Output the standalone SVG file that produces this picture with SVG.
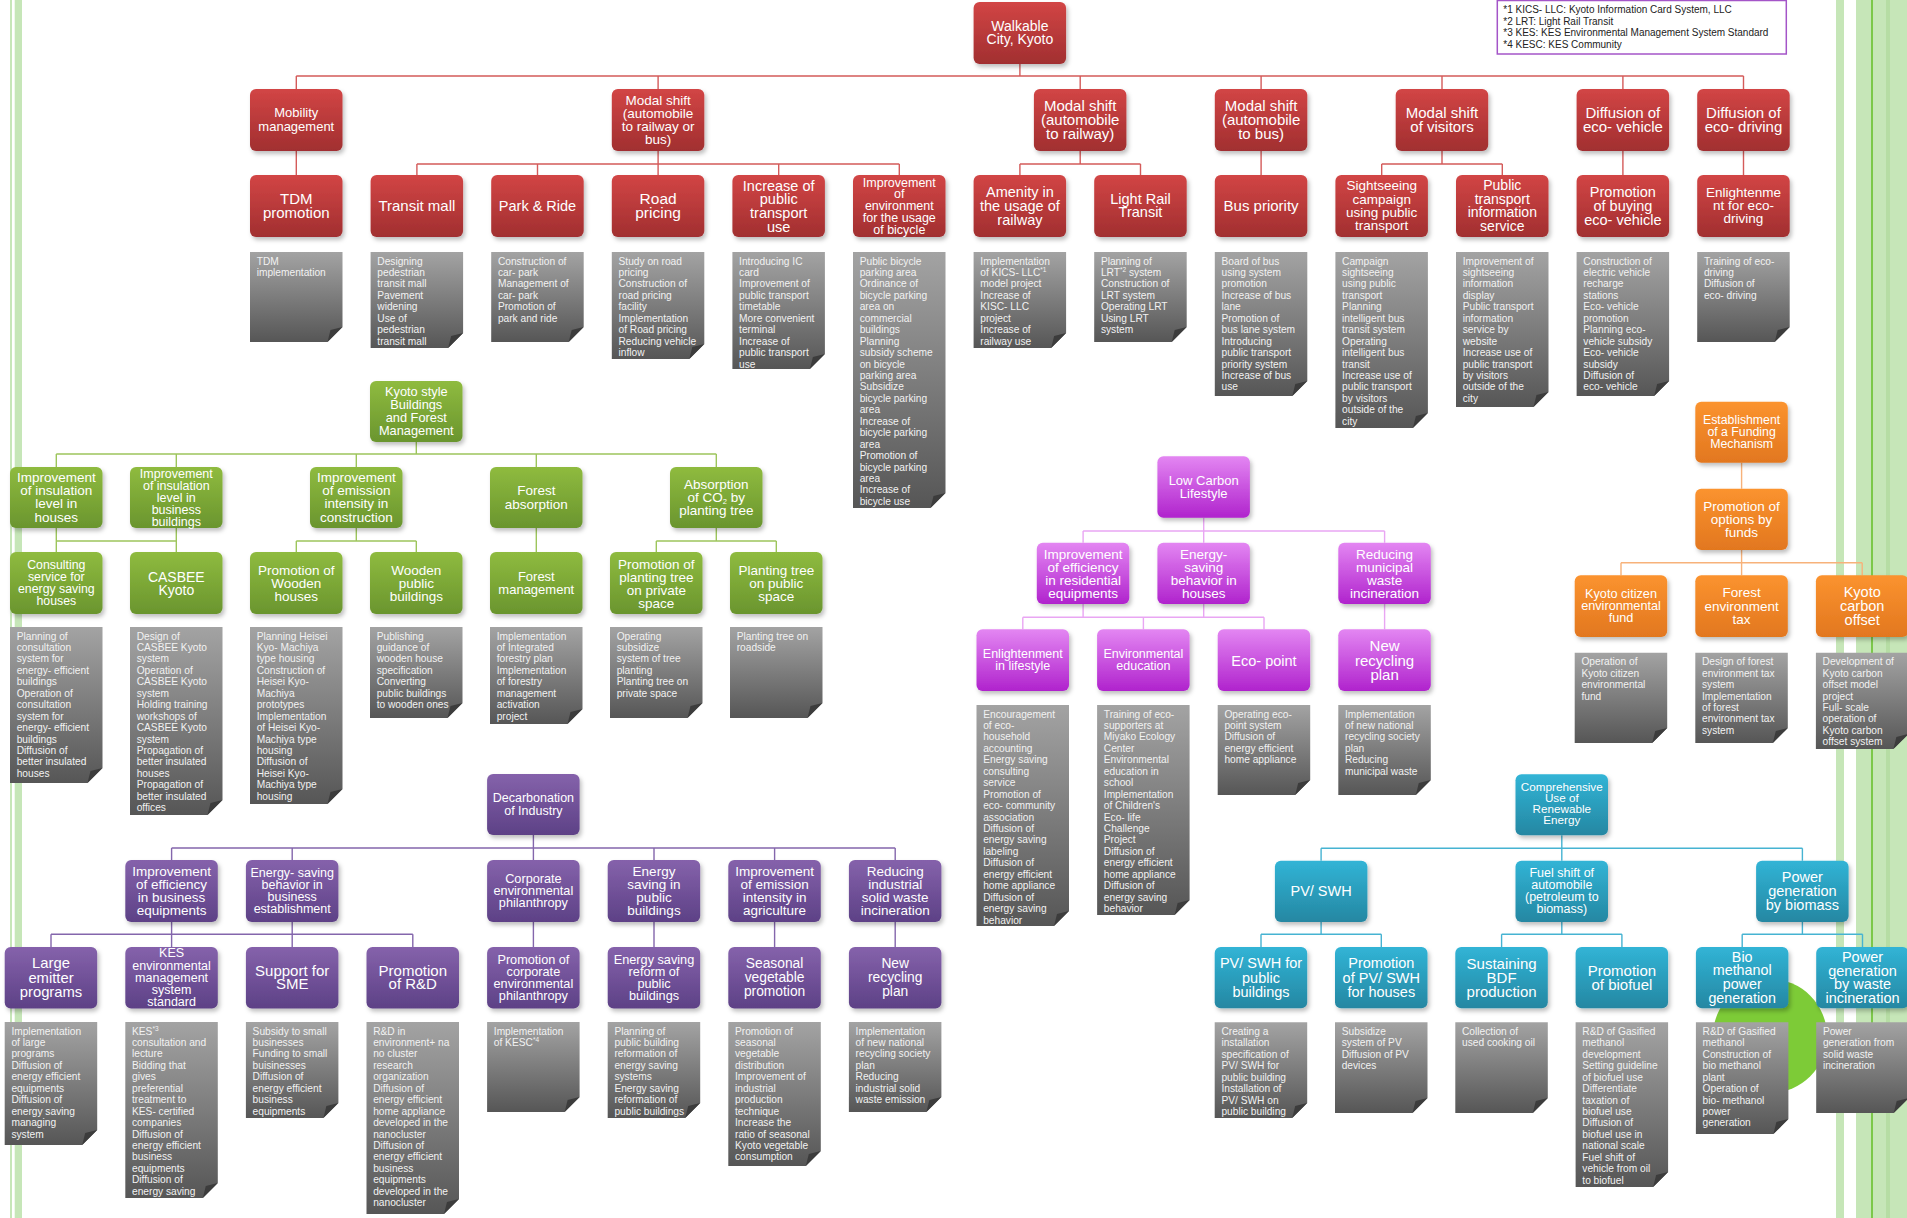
<svg xmlns="http://www.w3.org/2000/svg" width="1907" height="1218" viewBox="0 0 1907 1218">
<defs>
<linearGradient id="gR" x1="0" y1="0" x2="0" y2="1"><stop offset="0" stop-color="#d24545"/><stop offset="1" stop-color="#a12f30"/></linearGradient>
<linearGradient id="gG" x1="0" y1="0" x2="0" y2="1"><stop offset="0" stop-color="#8fbb3f"/><stop offset="1" stop-color="#6a952e"/></linearGradient>
<linearGradient id="gP" x1="0" y1="0" x2="0" y2="1"><stop offset="0" stop-color="#8562ab"/><stop offset="1" stop-color="#5d4186"/></linearGradient>
<linearGradient id="gM" x1="0" y1="0" x2="0" y2="1"><stop offset="0" stop-color="#e386f2"/><stop offset="1" stop-color="#b023cd"/></linearGradient>
<linearGradient id="gO" x1="0" y1="0" x2="0" y2="1"><stop offset="0" stop-color="#fb932f"/><stop offset="1" stop-color="#e2771f"/></linearGradient>
<linearGradient id="gC" x1="0" y1="0" x2="0" y2="1"><stop offset="0" stop-color="#31b4d6"/><stop offset="1" stop-color="#2587a2"/></linearGradient>
<linearGradient id="gN" x1="0" y1="0" x2="0" y2="1"><stop offset="0" stop-color="#a3a3a3"/><stop offset="1" stop-color="#565656"/></linearGradient>
<filter id="sh" x="-10%" y="-10%" width="130%" height="140%"><feDropShadow dx="2" dy="3" stdDeviation="2" flood-color="#000" flood-opacity="0.25"/></filter>
</defs>
<style>
.bx text{font-family:'Liberation Sans',Arial,sans-serif;fill:#fff;text-anchor:middle}
.bx rect{filter:url(#sh)}
.red rect{fill:url(#gR)}
.grn rect{fill:url(#gG)}
.pur rect{fill:url(#gP)}
.mag rect{fill:url(#gM)}
.org rect{fill:url(#gO)}
.cyn rect{fill:url(#gC)}
.nt text{font-family:'Liberation Sans',Arial,sans-serif;font-size:10.2px;fill:#f2f2f2}
.nt path{fill:url(#gN)}
.nt path.fd{fill:#3c3c3c}
.c{fill:none;stroke-width:1.4}
.cR{stroke:#d45b5a}.cG{stroke:#9dc55c}.cP{stroke:#8466ac}.cM{stroke:#e9a6f3}.cO{stroke:#f7b27a}.cC{stroke:#46b3d2}
.fn{font-family:'Liberation Sans',Arial,sans-serif;font-size:10px;fill:#222}
</style>
<g id="background">
<rect x="10" y="0" width="2" height="1218" fill="#c6e6b8"/>
<rect x="14.7" y="0" width="7.3" height="1218" fill="#c6e6b8"/>
<rect x="1836" y="0" width="8" height="1218" fill="#c6e6b8"/>
<rect x="1856" y="0" width="51" height="1218" fill="#c6e6b8"/>
<rect x="1871" y="0" width="2" height="1218" fill="#7cc84a"/>
<rect x="1886" y="0" width="4" height="1218" fill="#b6dda4"/>
<circle cx="1770" cy="1036" r="57" fill="#7dcb37"/>
</g>
<g id="footnote">
<rect x="1497.3" y="0.5" width="289" height="53.5" fill="#fff" stroke="#a455c8" stroke-width="1.5"/>
<text class="fn" x="1503.3" y="13.1">*1 KICS- LLC: Kyoto Information Card System, LLC</text>
<text class="fn" x="1503.3" y="24.8">*2 LRT: Light Rail Transit</text>
<text class="fn" x="1503.3" y="36.1">*3 KES: KES Environmental Management System Standard</text>
<text class="fn" x="1503.3" y="47.6">*4 KESC: KES Community</text>
</g>
<g id="connectors">
<path class="c cR" d="M1019.9 64V76M296.3 76H1743.5M296.3 76V89M658.1 76V89M1080.2 76V89M1261.1 76V89M1442 76V89M1622.9 76V89M1743.5 76V89M296.3 151V175M658.1 151V164M416.9 164H899.3M416.9 164V175M537.5 164V175M658.1 164V175M778.7 164V175M899.3 164V175M1080.2 151V164M1019.9 164H1140.5M1019.9 164V175M1140.5 164V175M1261.1 151V175M1442 151V164M1381.7 164H1502.3M1381.7 164V175M1502.3 164V175M1622.9 151V175M1743.5 151V175"/>
<path class="c cG" d="M416.3 442V454M56.3 454H716.3M56.3 454V467M176.3 454V467M356.3 454V467M536.3 454V467M716.3 454V467M56.3 528V552M176.3 528V552M56.3 541H176.3M356.3 528V541M296.3 541H416.3M296.3 541V552M416.3 541V552M536.3 528V552M716.3 528V541M656.3 541H776.3M656.3 541V552M776.3 541V552"/>
<path class="c cP" d="M533.4 835V848M171.6 848H895.2M171.6 848V860M292.2 848V860M533.4 848V860M654 848V860M774.6 848V860M895.2 848V860M171.6 922V947M292.2 922V947M51 934.3H412.8M51 934.3V947M412.8 934.3V947M533.4 922V947M654 922V947M774.6 922V947M895.2 922V947"/>
<path class="c cM" d="M1203.7 517.7V531M1083.1 531H1384.6M1083.1 531V542.7M1203.7 531V542.7M1384.6 531V542.7M1083.1 604V617.3M1203.7 604V617.3M1022.8 617.3H1264M1022.8 617.3V629.3M1143.4 617.3V629.3M1264 617.3V629.3M1384.6 604V629.3"/>
<path class="c cO" d="M1741.6 462.7V488.7M1741.6 550V562.7M1621 562.7H1862.2M1621 562.7V575.3M1741.6 562.7V575.3M1862.2 562.7V575.3"/>
<path class="c cC" d="M1561.8 835.3V848.3M1321.1 848.3H1802.4M1321.1 848.3V860.7M1561.8 848.3V860.7M1802.4 848.3V860.7M1321.1 922V934.3M1261 934.3H1381.3M1261 934.3V947M1381.3 934.3V947M1561.8 922V934.3M1501.6 934.3H1621.9M1501.6 934.3V947M1621.9 934.3V947M1802.4 922V934.3M1742.2 934.3H1862.5M1742.2 934.3V947M1862.5 934.3V947"/>
</g>

<g id="n-walkable" class="bx red"><rect x="973.6" y="2" width="92.5" height="62" rx="6"/><text font-size="14" y="31.2"><tspan x="1019.9">Walkable</tspan><tspan x="1019.9" dy="13">City, Kyoto</tspan></text></g>
<g id="n-mobility" class="bx red"><rect x="250" y="89" width="92.5" height="62" rx="6"/><text font-size="13" y="117.4"><tspan x="296.3">Mobility</tspan><tspan x="296.3" dy="13.3">management</tspan></text></g>
<g id="n-modal-rb" class="bx red"><rect x="611.8" y="89" width="92.5" height="62" rx="6"/><text font-size="13.5" y="104.9"><tspan x="658.1">Modal shift</tspan><tspan x="658.1" dy="12.9">(automobile</tspan><tspan x="658.1" dy="12.9">to railway or</tspan><tspan x="658.1" dy="12.9">bus)</tspan></text></g>
<g id="n-modal-rail" class="bx red"><rect x="1033.9" y="89" width="92.5" height="62" rx="6"/><text font-size="15" y="110.75"><tspan x="1080.2">Modal shift</tspan><tspan x="1080.2" dy="14">(automobile</tspan><tspan x="1080.2" dy="14">to railway)</tspan></text></g>
<g id="n-modal-bus" class="bx red"><rect x="1214.8" y="89" width="92.5" height="62" rx="6"/><text font-size="15" y="110.75"><tspan x="1261.1">Modal shift</tspan><tspan x="1261.1" dy="14">(automobile</tspan><tspan x="1261.1" dy="14">to bus)</tspan></text></g>
<g id="n-modal-visitors" class="bx red"><rect x="1395.7" y="89" width="92.5" height="62" rx="6"/><text font-size="15" y="117.75"><tspan x="1442">Modal shift</tspan><tspan x="1442" dy="14">of visitors</tspan></text></g>
<g id="n-eco-vehicle" class="bx red"><rect x="1576.6" y="89" width="92.5" height="62" rx="6"/><text font-size="15" y="117.75"><tspan x="1622.9">Diffusion of</tspan><tspan x="1622.9" dy="14">eco- vehicle</tspan></text></g>
<g id="n-eco-driving" class="bx red"><rect x="1697.2" y="89" width="92.5" height="62" rx="6"/><text font-size="15" y="117.75"><tspan x="1743.5">Diffusion of</tspan><tspan x="1743.5" dy="14">eco- driving</tspan></text></g>
<g id="n-tdm" class="bx red"><rect x="250" y="175" width="92.5" height="62" rx="6"/><text font-size="15" y="203.9"><tspan x="296.3">TDM</tspan><tspan x="296.3" dy="13.7">promotion</tspan></text></g>
<g id="n-transit" class="bx red"><rect x="370.6" y="175" width="92.5" height="62" rx="6"/><text font-size="15" y="210.75" x="416.9">Transit mall</text></g>
<g id="n-park" class="bx red"><rect x="491.2" y="175" width="92.5" height="62" rx="6"/><text font-size="14.5" y="210.6" x="537.5">Park &amp; Ride</text></g>
<g id="n-road" class="bx red"><rect x="611.8" y="175" width="92.5" height="62" rx="6"/><text font-size="15.5" y="204.15"><tspan x="658.1">Road</tspan><tspan x="658.1" dy="13.5">pricing</tspan></text></g>
<g id="n-increase" class="bx red"><rect x="732.4" y="175" width="92.5" height="62" rx="6"/><text font-size="14.5" y="190.5"><tspan x="778.7">Increase of</tspan><tspan x="778.7" dy="13.7">public</tspan><tspan x="778.7" dy="13.7">transport</tspan><tspan x="778.7" dy="13.7">use</tspan></text></g>
<g id="n-bicycle" class="bx red"><rect x="853" y="175" width="92.5" height="62" rx="6"/><text font-size="12.5" y="186.5"><tspan x="899.3">Improvement</tspan><tspan x="899.3" dy="11.9">of</tspan><tspan x="899.3" dy="11.9">environment</tspan><tspan x="899.3" dy="11.9">for the usage</tspan><tspan x="899.3" dy="11.9">of bicycle</tspan></text></g>
<g id="n-amenity" class="bx red"><rect x="973.6" y="175" width="92.5" height="62" rx="6"/><text font-size="14.5" y="197"><tspan x="1019.9">Amenity in</tspan><tspan x="1019.9" dy="14">the usage of</tspan><tspan x="1019.9" dy="14">railway</tspan></text></g>
<g id="n-lrt" class="bx red"><rect x="1094.2" y="175" width="92.5" height="62" rx="6"/><text font-size="14.5" y="204.1"><tspan x="1140.5">Light Rail</tspan><tspan x="1140.5" dy="13">Transit</tspan></text></g>
<g id="n-bus-priority" class="bx red"><rect x="1214.8" y="175" width="92.5" height="62" rx="6"/><text font-size="15" y="210.75" x="1261.1">Bus priority</text></g>
<g id="n-sightseeing" class="bx red"><rect x="1335.4" y="175" width="92.5" height="62" rx="6"/><text font-size="13.5" y="190.25"><tspan x="1381.7">Sightseeing</tspan><tspan x="1381.7" dy="13.3">campaign</tspan><tspan x="1381.7" dy="13.3">using public</tspan><tspan x="1381.7" dy="13.3">transport</tspan></text></g>
<g id="n-pt-info" class="bx red"><rect x="1456" y="175" width="92.5" height="62" rx="6"/><text font-size="14" y="190.15"><tspan x="1502.3">Public</tspan><tspan x="1502.3" dy="13.5">transport</tspan><tspan x="1502.3" dy="13.5">information</tspan><tspan x="1502.3" dy="13.5">service</tspan></text></g>
<g id="n-buy-eco" class="bx red"><rect x="1576.6" y="175" width="92.5" height="62" rx="6"/><text font-size="14.5" y="196.6"><tspan x="1622.9">Promotion</tspan><tspan x="1622.9" dy="14">of buying</tspan><tspan x="1622.9" dy="14">eco- vehicle</tspan></text></g>
<g id="n-enlighten-eco" class="bx red"><rect x="1697.2" y="175" width="92.5" height="62" rx="6"/><text font-size="13.5" y="197.2"><tspan x="1743.5">Enlightenme</tspan><tspan x="1743.5" dy="13">nt for eco-</tspan><tspan x="1743.5" dy="13">driving</tspan></text></g>

<g id="n-kyoto-style" class="bx grn"><rect x="370" y="381" width="92.5" height="61" rx="6"/><text font-size="12.8" y="395.5"><tspan x="416.3">Kyoto style</tspan><tspan x="416.3" dy="13.3">Buildings</tspan><tspan x="416.3" dy="13.3">and Forest</tspan><tspan x="416.3" dy="13.3">Management</tspan></text></g>
<g id="n-ins-houses" class="bx grn"><rect x="10" y="467" width="92.5" height="61" rx="6"/><text font-size="13.5" y="481.7"><tspan x="56.3">Improvement</tspan><tspan x="56.3" dy="13.3">of insulation</tspan><tspan x="56.3" dy="13.3">level in</tspan><tspan x="56.3" dy="13.3">houses</tspan></text></g>
<g id="n-ins-business" class="bx grn"><rect x="130" y="467" width="92.5" height="61" rx="6"/><text font-size="12.5" y="477.6"><tspan x="176.3">Improvement</tspan><tspan x="176.3" dy="12">of insulation</tspan><tspan x="176.3" dy="12">level in</tspan><tspan x="176.3" dy="12">business</tspan><tspan x="176.3" dy="12">buildings</tspan></text></g>
<g id="n-emission-constr" class="bx grn"><rect x="310" y="467" width="92.5" height="61" rx="6"/><text font-size="13.5" y="481.7"><tspan x="356.3">Improvement</tspan><tspan x="356.3" dy="13.3">of emission</tspan><tspan x="356.3" dy="13.3">intensity in</tspan><tspan x="356.3" dy="13.3">construction</tspan></text></g>
<g id="n-forest-abs" class="bx grn"><rect x="490" y="467" width="92.5" height="61" rx="6"/><text font-size="13.5" y="494.7"><tspan x="536.3">Forest</tspan><tspan x="536.3" dy="14">absorption</tspan></text></g>
<g id="n-co2" class="bx grn"><rect x="670" y="467" width="92.5" height="61" rx="6"/><text font-size="13.5" y="488.7"><tspan x="716.3">Absorption</tspan><tspan x="716.3" dy="13">of CO<tspan font-size="7.5" baseline-shift="-1.5">2</tspan> by</tspan><tspan x="716.3" dy="13">planting tree</tspan></text></g>
<g id="n-consulting" class="bx grn"><rect x="10" y="552" width="92.5" height="62" rx="6"/><text font-size="12.3" y="569"><tspan x="56.3">Consulting</tspan><tspan x="56.3" dy="12.1">service for</tspan><tspan x="56.3" dy="12.1">energy saving</tspan><tspan x="56.3" dy="12.1">houses</tspan></text></g>
<g id="n-casbee" class="bx grn"><rect x="130" y="552" width="92.5" height="62" rx="6"/><text font-size="14" y="581.5"><tspan x="176.3">CASBEE</tspan><tspan x="176.3" dy="13">Kyoto</tspan></text></g>
<g id="n-wooden-houses" class="bx grn"><rect x="250" y="552" width="92.5" height="62" rx="6"/><text font-size="13.5" y="574.5"><tspan x="296.3">Promotion of</tspan><tspan x="296.3" dy="13">Wooden</tspan><tspan x="296.3" dy="13">houses</tspan></text></g>
<g id="n-wooden-public" class="bx grn"><rect x="370" y="552" width="92.5" height="62" rx="6"/><text font-size="13.5" y="574.5"><tspan x="416.3">Wooden</tspan><tspan x="416.3" dy="13">public</tspan><tspan x="416.3" dy="13">buildings</tspan></text></g>
<g id="n-forest-mgmt" class="bx grn"><rect x="490" y="552" width="92.5" height="62" rx="6"/><text font-size="13" y="581.3"><tspan x="536.3">Forest</tspan><tspan x="536.3" dy="13">management</tspan></text></g>
<g id="n-planting-private" class="bx grn"><rect x="610" y="552" width="92.5" height="62" rx="6"/><text font-size="13.5" y="568.5"><tspan x="656.3">Promotion of</tspan><tspan x="656.3" dy="13">planting tree</tspan><tspan x="656.3" dy="13">on private</tspan><tspan x="656.3" dy="13">space</tspan></text></g>
<g id="n-planting-public" class="bx grn"><rect x="730" y="552" width="92.5" height="62" rx="6"/><text font-size="13.5" y="574.5"><tspan x="776.3">Planting tree</tspan><tspan x="776.3" dy="13">on public</tspan><tspan x="776.3" dy="13">space</tspan></text></g>

<g id="n-decarb" class="bx pur"><rect x="487.1" y="774" width="92.5" height="61" rx="6"/><text font-size="12.5" y="801.5"><tspan x="533.4">Decarbonation</tspan><tspan x="533.4" dy="13">of Industry</tspan></text></g>
<g id="n-eff-business" class="bx pur"><rect x="125.3" y="860" width="92.5" height="62" rx="6"/><text font-size="13.5" y="875.7"><tspan x="171.6">Improvement</tspan><tspan x="171.6" dy="13">of efficiency</tspan><tspan x="171.6" dy="13">in business</tspan><tspan x="171.6" dy="13">equipments</tspan></text></g>
<g id="n-behavior-business" class="bx pur"><rect x="245.9" y="860" width="92.5" height="62" rx="6"/><text font-size="12.5" y="876.7"><tspan x="292.2">Energy- saving</tspan><tspan x="292.2" dy="12.2">behavior in</tspan><tspan x="292.2" dy="12.2">business</tspan><tspan x="292.2" dy="12.2">establishment</tspan></text></g>
<g id="n-corporate" class="bx pur"><rect x="487.1" y="860" width="92.5" height="62" rx="6"/><text font-size="12.7" y="882.8"><tspan x="533.4">Corporate</tspan><tspan x="533.4" dy="12">environmental</tspan><tspan x="533.4" dy="12">philanthropy</tspan></text></g>
<g id="n-public-bldg" class="bx pur"><rect x="607.7" y="860" width="92.5" height="62" rx="6"/><text font-size="13.5" y="875.7"><tspan x="654">Energy</tspan><tspan x="654" dy="13">saving in</tspan><tspan x="654" dy="13">public</tspan><tspan x="654" dy="13">buildings</tspan></text></g>
<g id="n-agriculture" class="bx pur"><rect x="728.3" y="860" width="92.5" height="62" rx="6"/><text font-size="13.5" y="875.7"><tspan x="774.6">Improvement</tspan><tspan x="774.6" dy="13">of emission</tspan><tspan x="774.6" dy="13">intensity in</tspan><tspan x="774.6" dy="13">agriculture</tspan></text></g>
<g id="n-industrial-waste" class="bx pur"><rect x="848.9" y="860" width="92.5" height="62" rx="6"/><text font-size="13.5" y="875.7"><tspan x="895.2">Reducing</tspan><tspan x="895.2" dy="13">industrial</tspan><tspan x="895.2" dy="13">solid waste</tspan><tspan x="895.2" dy="13">incineration</tspan></text></g>
<g id="n-large-emitter" class="bx pur"><rect x="4.7" y="947" width="92.5" height="61.5" rx="6"/><text font-size="14.8" y="968.4"><tspan x="51">Large</tspan><tspan x="51" dy="14.2">emitter</tspan><tspan x="51" dy="14.2">programs</tspan></text></g>
<g id="n-kes" class="bx pur"><rect x="125.3" y="947" width="92.5" height="61.5" rx="6"/><text font-size="12.5" y="957.4"><tspan x="171.6">KES</tspan><tspan x="171.6" dy="12.1">environmental</tspan><tspan x="171.6" dy="12.1">management</tspan><tspan x="171.6" dy="12.1">system</tspan><tspan x="171.6" dy="12.1">standard</tspan></text></g>
<g id="n-sme" class="bx pur"><rect x="245.9" y="947" width="92.5" height="61.5" rx="6"/><text font-size="15" y="975.9"><tspan x="292.2">Support for</tspan><tspan x="292.2" dy="13.3">SME</tspan></text></g>
<g id="n-rd" class="bx pur"><rect x="366.5" y="947" width="92.5" height="61.5" rx="6"/><text font-size="15" y="975.9"><tspan x="412.8">Promotion</tspan><tspan x="412.8" dy="13.3">of R&amp;D</tspan></text></g>
<g id="n-promo-corporate" class="bx pur"><rect x="487.1" y="947" width="92.5" height="61.5" rx="6"/><text font-size="12.7" y="963.5"><tspan x="533.4">Promotion of</tspan><tspan x="533.4" dy="12.1">corporate</tspan><tspan x="533.4" dy="12.1">environmental</tspan><tspan x="533.4" dy="12.1">philanthropy</tspan></text></g>
<g id="n-reform" class="bx pur"><rect x="607.7" y="947" width="92.5" height="61.5" rx="6"/><text font-size="12.7" y="963.5"><tspan x="654">Energy saving</tspan><tspan x="654" dy="12.1">reform of</tspan><tspan x="654" dy="12.1">public</tspan><tspan x="654" dy="12.1">buildings</tspan></text></g>
<g id="n-seasonal" class="bx pur"><rect x="728.3" y="947" width="92.5" height="61.5" rx="6"/><text font-size="13.8" y="968.3"><tspan x="774.6">Seasonal</tspan><tspan x="774.6" dy="13.7">vegetable</tspan><tspan x="774.6" dy="13.7">promotion</tspan></text></g>
<g id="n-recycling-ind" class="bx pur"><rect x="848.9" y="947" width="92.5" height="61.5" rx="6"/><text font-size="13.8" y="968.3"><tspan x="895.2">New</tspan><tspan x="895.2" dy="13.7">recycling</tspan><tspan x="895.2" dy="13.7">plan</tspan></text></g>

<g id="n-lowcarbon" class="bx mag"><rect x="1157.4" y="456.3" width="92.5" height="61.4" rx="6"/><text font-size="13" y="484.5"><tspan x="1203.7">Low Carbon</tspan><tspan x="1203.7" dy="13.7">Lifestyle</tspan></text></g>
<g id="n-residential" class="bx mag"><rect x="1036.8" y="542.7" width="92.5" height="61.3" rx="6"/><text font-size="13.5" y="558.5"><tspan x="1083.1">Improvement</tspan><tspan x="1083.1" dy="13">of efficiency</tspan><tspan x="1083.1" dy="13">in residential</tspan><tspan x="1083.1" dy="13">equipments</tspan></text></g>
<g id="n-behavior-houses" class="bx mag"><rect x="1157.4" y="542.7" width="92.5" height="61.3" rx="6"/><text font-size="13.5" y="558.5"><tspan x="1203.7">Energy-</tspan><tspan x="1203.7" dy="13">saving</tspan><tspan x="1203.7" dy="13">behavior in</tspan><tspan x="1203.7" dy="13">houses</tspan></text></g>
<g id="n-municipal" class="bx mag"><rect x="1338.3" y="542.7" width="92.5" height="61.3" rx="6"/><text font-size="13.5" y="558.5"><tspan x="1384.6">Reducing</tspan><tspan x="1384.6" dy="13">municipal</tspan><tspan x="1384.6" dy="13">waste</tspan><tspan x="1384.6" dy="13">incineration</tspan></text></g>
<g id="n-lifestyle" class="bx mag"><rect x="976.5" y="629.3" width="92.5" height="61.7" rx="6"/><text font-size="12.5" y="658.2"><tspan x="1022.8">Enlightenment</tspan><tspan x="1022.8" dy="12">in lifestyle</tspan></text></g>
<g id="n-env-edu" class="bx mag"><rect x="1097.1" y="629.3" width="92.5" height="61.7" rx="6"/><text font-size="12.5" y="658.2"><tspan x="1143.4">Environmental</tspan><tspan x="1143.4" dy="12">education</tspan></text></g>
<g id="n-ecopoint" class="bx mag"><rect x="1217.7" y="629.3" width="92.5" height="61.7" rx="6"/><text font-size="14.5" y="665.5" x="1264">Eco- point</text></g>
<g id="n-recycling-mun" class="bx mag"><rect x="1338.3" y="629.3" width="92.5" height="61.7" rx="6"/><text font-size="15" y="651.3"><tspan x="1384.6">New</tspan><tspan x="1384.6" dy="14.2">recycling</tspan><tspan x="1384.6" dy="14.2">plan</tspan></text></g>

<g id="n-funding" class="bx org"><rect x="1695.3" y="401.7" width="92.5" height="61" rx="6"/><text font-size="12.3" y="424.3"><tspan x="1741.6">Establishment</tspan><tspan x="1741.6" dy="12">of a Funding</tspan><tspan x="1741.6" dy="12">Mechanism</tspan></text></g>
<g id="n-options" class="bx org"><rect x="1695.3" y="488.7" width="92.5" height="61.3" rx="6"/><text font-size="13.5" y="510.7"><tspan x="1741.6">Promotion of</tspan><tspan x="1741.6" dy="13">options by</tspan><tspan x="1741.6" dy="13">funds</tspan></text></g>
<g id="n-citizen-fund" class="bx org"><rect x="1574.7" y="575.3" width="92.5" height="61.7" rx="6"/><text font-size="12.7" y="598.4"><tspan x="1621">Kyoto citizen</tspan><tspan x="1621" dy="12">environmental</tspan><tspan x="1621" dy="12">fund</tspan></text></g>
<g id="n-forest-tax" class="bx org"><rect x="1695.3" y="575.3" width="92.5" height="61.7" rx="6"/><text font-size="13.5" y="597.4"><tspan x="1741.6">Forest</tspan><tspan x="1741.6" dy="13.2">environment</tspan><tspan x="1741.6" dy="13.2">tax</tspan></text></g>
<g id="n-carbon-offset" class="bx org"><rect x="1815.9" y="575.3" width="92.5" height="61.7" rx="6"/><text font-size="14.5" y="597.4"><tspan x="1862.2">Kyoto</tspan><tspan x="1862.2" dy="13.9">carbon</tspan><tspan x="1862.2" dy="13.9">offset</tspan></text></g>

<g id="n-renewable" class="bx cyn"><rect x="1515.5" y="774.3" width="92.5" height="61" rx="6"/><text font-size="11.7" y="791.4"><tspan x="1561.8">Comprehensive</tspan><tspan x="1561.8" dy="11">Use of</tspan><tspan x="1561.8" dy="11">Renewable</tspan><tspan x="1561.8" dy="11">Energy</tspan></text></g>
<g id="n-pvswh" class="bx cyn"><rect x="1274.9" y="860.7" width="92.5" height="61.3" rx="6"/><text font-size="14.5" y="896.2" x="1321.1">PV/ SWH</text></g>
<g id="n-fuel-shift" class="bx cyn"><rect x="1515.5" y="860.7" width="92.5" height="61.3" rx="6"/><text font-size="12.5" y="877.4"><tspan x="1561.8">Fuel shift of</tspan><tspan x="1561.8" dy="12">automobile</tspan><tspan x="1561.8" dy="12">(petroleum to</tspan><tspan x="1561.8" dy="12">biomass)</tspan></text></g>
<g id="n-biomass" class="bx cyn"><rect x="1756.1" y="860.7" width="92.5" height="61.3" rx="6"/><text font-size="14.5" y="882.4"><tspan x="1802.4">Power</tspan><tspan x="1802.4" dy="13.7">generation</tspan><tspan x="1802.4" dy="13.7">by biomass</tspan></text></g>
<g id="n-pv-public" class="bx cyn"><rect x="1214.7" y="947" width="92.5" height="61.3" rx="6"/><text font-size="14.5" y="968.4"><tspan x="1261">PV/ SWH for</tspan><tspan x="1261" dy="14.2">public</tspan><tspan x="1261" dy="14.2">buildings</tspan></text></g>
<g id="n-pv-houses" class="bx cyn"><rect x="1335" y="947" width="92.5" height="61.3" rx="6"/><text font-size="14.5" y="968.4"><tspan x="1381.3">Promotion</tspan><tspan x="1381.3" dy="14.2">of PV/ SWH</tspan><tspan x="1381.3" dy="14.2">for houses</tspan></text></g>
<g id="n-bdf" class="bx cyn"><rect x="1455.3" y="947" width="92.5" height="61.3" rx="6"/><text font-size="15" y="968.5"><tspan x="1501.6">Sustaining</tspan><tspan x="1501.6" dy="14.2">BDF</tspan><tspan x="1501.6" dy="14.2">production</tspan></text></g>
<g id="n-biofuel" class="bx cyn"><rect x="1575.6" y="947" width="92.5" height="61.3" rx="6"/><text font-size="15" y="975.9"><tspan x="1621.9">Promotion</tspan><tspan x="1621.9" dy="13.7">of biofuel</tspan></text></g>
<g id="n-biomethanol" class="bx cyn"><rect x="1695.9" y="947" width="92.5" height="61.3" rx="6"/><text font-size="14.3" y="961.7"><tspan x="1742.2">Bio</tspan><tspan x="1742.2" dy="13.7">methanol</tspan><tspan x="1742.2" dy="13.7">power</tspan><tspan x="1742.2" dy="13.7">generation</tspan></text></g>
<g id="n-waste-power" class="bx cyn"><rect x="1816.2" y="947" width="92.5" height="61.3" rx="6"/><text font-size="14.5" y="961.8"><tspan x="1862.5">Power</tspan><tspan x="1862.5" dy="13.7">generation</tspan><tspan x="1862.5" dy="13.7">by waste</tspan><tspan x="1862.5" dy="13.7">incineration</tspan></text></g>

<g id="note-tdm" class="nt"><path d="M250 252h92.5v75l-15 15H250z"/><path class="fd" d="M342.5 327l-15 15 3-12z"/><text y="264.5"><tspan x="256.7">TDM</tspan><tspan x="256.7" dy="11.45">implementation</tspan></text></g>
<g id="note-transit" class="nt"><path d="M370.6 252h92.5v81l-15 15H370.6z"/><path class="fd" d="M463.1 333l-15 15 3-12z"/><text y="264.5"><tspan x="377.3">Designing</tspan><tspan x="377.3" dy="11.45">pedestrian</tspan><tspan x="377.3" dy="11.45">transit mall</tspan><tspan x="377.3" dy="11.45">Pavement</tspan><tspan x="377.3" dy="11.45">widening</tspan><tspan x="377.3" dy="11.45">Use of</tspan><tspan x="377.3" dy="11.45">pedestrian</tspan><tspan x="377.3" dy="11.45">transit mall</tspan></text></g>
<g id="note-park" class="nt"><path d="M491.2 252h92.5v75l-15 15H491.2z"/><path class="fd" d="M583.7 327l-15 15 3-12z"/><text y="264.5"><tspan x="497.9">Construction of</tspan><tspan x="497.9" dy="11.45">car- park</tspan><tspan x="497.9" dy="11.45">Management of</tspan><tspan x="497.9" dy="11.45">car- park</tspan><tspan x="497.9" dy="11.45">Promotion of</tspan><tspan x="497.9" dy="11.45">park and ride</tspan></text></g>
<g id="note-road" class="nt"><path d="M611.8 252h92.5v92l-15 15H611.8z"/><path class="fd" d="M704.3 344l-15 15 3-12z"/><text y="264.5"><tspan x="618.5">Study on road</tspan><tspan x="618.5" dy="11.45">pricing</tspan><tspan x="618.5" dy="11.45">Construction of</tspan><tspan x="618.5" dy="11.45">road pricing</tspan><tspan x="618.5" dy="11.45">facility</tspan><tspan x="618.5" dy="11.45">Implementation</tspan><tspan x="618.5" dy="11.45">of Road pricing</tspan><tspan x="618.5" dy="11.45">Reducing vehicle</tspan><tspan x="618.5" dy="11.45">inflow</tspan></text></g>
<g id="note-increase" class="nt"><path d="M732.4 252h92.5v102l-15 15H732.4z"/><path class="fd" d="M824.9 354l-15 15 3-12z"/><text y="264.5"><tspan x="739.1">Introducing IC</tspan><tspan x="739.1" dy="11.45">card</tspan><tspan x="739.1" dy="11.45">Improvement of</tspan><tspan x="739.1" dy="11.45">public transport</tspan><tspan x="739.1" dy="11.45">timetable</tspan><tspan x="739.1" dy="11.45">More convenient</tspan><tspan x="739.1" dy="11.45">terminal</tspan><tspan x="739.1" dy="11.45">Increase of</tspan><tspan x="739.1" dy="11.45">public transport</tspan><tspan x="739.1" dy="11.45">use</tspan></text></g>
<g id="note-bicycle" class="nt"><path d="M853 252h92.5v241l-15 15H853z"/><path class="fd" d="M945.5 493l-15 15 3-12z"/><text y="264.5"><tspan x="859.7">Public bicycle</tspan><tspan x="859.7" dy="11.45">parking area</tspan><tspan x="859.7" dy="11.45">Ordinance of</tspan><tspan x="859.7" dy="11.45">bicycle parking</tspan><tspan x="859.7" dy="11.45">area on</tspan><tspan x="859.7" dy="11.45">commercial</tspan><tspan x="859.7" dy="11.45">buildings</tspan><tspan x="859.7" dy="11.45">Planning</tspan><tspan x="859.7" dy="11.45">subsidy scheme</tspan><tspan x="859.7" dy="11.45">on bicycle</tspan><tspan x="859.7" dy="11.45">parking area</tspan><tspan x="859.7" dy="11.45">Subsidize</tspan><tspan x="859.7" dy="11.45">bicycle parking</tspan><tspan x="859.7" dy="11.45">area</tspan><tspan x="859.7" dy="11.45">Increase of</tspan><tspan x="859.7" dy="11.45">bicycle parking</tspan><tspan x="859.7" dy="11.45">area</tspan><tspan x="859.7" dy="11.45">Promotion of</tspan><tspan x="859.7" dy="11.45">bicycle parking</tspan><tspan x="859.7" dy="11.45">area</tspan><tspan x="859.7" dy="11.45">Increase of</tspan><tspan x="859.7" dy="11.45">bicycle use</tspan></text></g>
<g id="note-amenity" class="nt"><path d="M973.6 252h92.5v81l-15 15H973.6z"/><path class="fd" d="M1066.1 333l-15 15 3-12z"/><text y="264.5"><tspan x="980.3">Implementation</tspan><tspan x="980.3" dy="11.45">of KICS- LLC<tspan font-size="6.5" baseline-shift="4">*1</tspan></tspan><tspan x="980.3" dy="11.45">model project</tspan><tspan x="980.3" dy="11.45">Increase of</tspan><tspan x="980.3" dy="11.45">KISC- LLC</tspan><tspan x="980.3" dy="11.45">project</tspan><tspan x="980.3" dy="11.45">Increase of</tspan><tspan x="980.3" dy="11.45">railway use</tspan></text></g>
<g id="note-lrt" class="nt"><path d="M1094.2 252h92.5v75l-15 15H1094.2z"/><path class="fd" d="M1186.7 327l-15 15 3-12z"/><text y="264.5"><tspan x="1100.9">Planning of</tspan><tspan x="1100.9" dy="11.45">LRT<tspan font-size="6.5" baseline-shift="4">*2</tspan> system</tspan><tspan x="1100.9" dy="11.45">Construction of</tspan><tspan x="1100.9" dy="11.45">LRT system</tspan><tspan x="1100.9" dy="11.45">Operating LRT</tspan><tspan x="1100.9" dy="11.45">Using LRT</tspan><tspan x="1100.9" dy="11.45">system</tspan></text></g>
<g id="note-bus-priority" class="nt"><path d="M1214.8 252h92.5v129l-15 15H1214.8z"/><path class="fd" d="M1307.3 381l-15 15 3-12z"/><text y="264.5"><tspan x="1221.5">Board of bus</tspan><tspan x="1221.5" dy="11.45">using system</tspan><tspan x="1221.5" dy="11.45">promotion</tspan><tspan x="1221.5" dy="11.45">Increase of bus</tspan><tspan x="1221.5" dy="11.45">lane</tspan><tspan x="1221.5" dy="11.45">Promotion of</tspan><tspan x="1221.5" dy="11.45">bus lane system</tspan><tspan x="1221.5" dy="11.45">Introducing</tspan><tspan x="1221.5" dy="11.45">public transport</tspan><tspan x="1221.5" dy="11.45">priority system</tspan><tspan x="1221.5" dy="11.45">Increase of bus</tspan><tspan x="1221.5" dy="11.45">use</tspan></text></g>
<g id="note-sightseeing" class="nt"><path d="M1335.4 252h92.5v161l-15 15H1335.4z"/><path class="fd" d="M1427.9 413l-15 15 3-12z"/><text y="264.5"><tspan x="1342.1">Campaign</tspan><tspan x="1342.1" dy="11.45">sightseeing</tspan><tspan x="1342.1" dy="11.45">using public</tspan><tspan x="1342.1" dy="11.45">transport</tspan><tspan x="1342.1" dy="11.45">Planning</tspan><tspan x="1342.1" dy="11.45">intelligent bus</tspan><tspan x="1342.1" dy="11.45">transit system</tspan><tspan x="1342.1" dy="11.45">Operating</tspan><tspan x="1342.1" dy="11.45">intelligent bus</tspan><tspan x="1342.1" dy="11.45">transit</tspan><tspan x="1342.1" dy="11.45">Increase use of</tspan><tspan x="1342.1" dy="11.45">public transport</tspan><tspan x="1342.1" dy="11.45">by visitors</tspan><tspan x="1342.1" dy="11.45">outside of the</tspan><tspan x="1342.1" dy="11.45">city</tspan></text></g>
<g id="note-pt-info" class="nt"><path d="M1456 252h92.5v140l-15 15H1456z"/><path class="fd" d="M1548.5 392l-15 15 3-12z"/><text y="264.5"><tspan x="1462.7">Improvement of</tspan><tspan x="1462.7" dy="11.45">sightseeing</tspan><tspan x="1462.7" dy="11.45">information</tspan><tspan x="1462.7" dy="11.45">display</tspan><tspan x="1462.7" dy="11.45">Public transport</tspan><tspan x="1462.7" dy="11.45">information</tspan><tspan x="1462.7" dy="11.45">service by</tspan><tspan x="1462.7" dy="11.45">website</tspan><tspan x="1462.7" dy="11.45">Increase use of</tspan><tspan x="1462.7" dy="11.45">public transport</tspan><tspan x="1462.7" dy="11.45">by visitors</tspan><tspan x="1462.7" dy="11.45">outside of the</tspan><tspan x="1462.7" dy="11.45">city</tspan></text></g>
<g id="note-buy-eco" class="nt"><path d="M1576.6 252h92.5v129l-15 15H1576.6z"/><path class="fd" d="M1669.1 381l-15 15 3-12z"/><text y="264.5"><tspan x="1583.3">Construction of</tspan><tspan x="1583.3" dy="11.45">electric vehicle</tspan><tspan x="1583.3" dy="11.45">recharge</tspan><tspan x="1583.3" dy="11.45">stations</tspan><tspan x="1583.3" dy="11.45">Eco- vehicle</tspan><tspan x="1583.3" dy="11.45">promotion</tspan><tspan x="1583.3" dy="11.45">Planning eco-</tspan><tspan x="1583.3" dy="11.45">vehicle subsidy</tspan><tspan x="1583.3" dy="11.45">Eco- vehicle</tspan><tspan x="1583.3" dy="11.45">subsidy</tspan><tspan x="1583.3" dy="11.45">Diffusion of</tspan><tspan x="1583.3" dy="11.45">eco- vehicle</tspan></text></g>
<g id="note-enlighten-eco" class="nt"><path d="M1697.2 252h92.5v75l-15 15H1697.2z"/><path class="fd" d="M1789.7 327l-15 15 3-12z"/><text y="264.5"><tspan x="1703.9">Training of eco-</tspan><tspan x="1703.9" dy="11.45">driving</tspan><tspan x="1703.9" dy="11.45">Diffusion of</tspan><tspan x="1703.9" dy="11.45">eco- driving</tspan></text></g>

<g id="note-consulting" class="nt"><path d="M10 627h92.5v141l-15 15H10z"/><path class="fd" d="M102.5 768l-15 15 3-12z"/><text y="639.5"><tspan x="16.7">Planning of</tspan><tspan x="16.7" dy="11.45">consultation</tspan><tspan x="16.7" dy="11.45">system for</tspan><tspan x="16.7" dy="11.45">energy- efficient</tspan><tspan x="16.7" dy="11.45">buildings</tspan><tspan x="16.7" dy="11.45">Operation of</tspan><tspan x="16.7" dy="11.45">consultation</tspan><tspan x="16.7" dy="11.45">system for</tspan><tspan x="16.7" dy="11.45">energy- efficient</tspan><tspan x="16.7" dy="11.45">buildings</tspan><tspan x="16.7" dy="11.45">Diffusion of</tspan><tspan x="16.7" dy="11.45">better insulated</tspan><tspan x="16.7" dy="11.45">houses</tspan></text></g>
<g id="note-casbee" class="nt"><path d="M130 627h92.5v173l-15 15H130z"/><path class="fd" d="M222.5 800l-15 15 3-12z"/><text y="639.5"><tspan x="136.7">Design of</tspan><tspan x="136.7" dy="11.45">CASBEE Kyoto</tspan><tspan x="136.7" dy="11.45">system</tspan><tspan x="136.7" dy="11.45">Operation of</tspan><tspan x="136.7" dy="11.45">CASBEE Kyoto</tspan><tspan x="136.7" dy="11.45">system</tspan><tspan x="136.7" dy="11.45">Holding training</tspan><tspan x="136.7" dy="11.45">workshops of</tspan><tspan x="136.7" dy="11.45">CASBEE Kyoto</tspan><tspan x="136.7" dy="11.45">system</tspan><tspan x="136.7" dy="11.45">Propagation of</tspan><tspan x="136.7" dy="11.45">better insulated</tspan><tspan x="136.7" dy="11.45">houses</tspan><tspan x="136.7" dy="11.45">Propagation of</tspan><tspan x="136.7" dy="11.45">better insulated</tspan><tspan x="136.7" dy="11.45">offices</tspan></text></g>
<g id="note-wooden-houses" class="nt"><path d="M250 627h92.5v162l-15 15H250z"/><path class="fd" d="M342.5 789l-15 15 3-12z"/><text y="639.5"><tspan x="256.7">Planning Heisei</tspan><tspan x="256.7" dy="11.45">Kyo- Machiya</tspan><tspan x="256.7" dy="11.45">type housing</tspan><tspan x="256.7" dy="11.45">Construction of</tspan><tspan x="256.7" dy="11.45">Heisei Kyo-</tspan><tspan x="256.7" dy="11.45">Machiya</tspan><tspan x="256.7" dy="11.45">prototypes</tspan><tspan x="256.7" dy="11.45">Implementation</tspan><tspan x="256.7" dy="11.45">of Heisei Kyo-</tspan><tspan x="256.7" dy="11.45">Machiya type</tspan><tspan x="256.7" dy="11.45">housing</tspan><tspan x="256.7" dy="11.45">Diffusion of</tspan><tspan x="256.7" dy="11.45">Heisei Kyo-</tspan><tspan x="256.7" dy="11.45">Machiya type</tspan><tspan x="256.7" dy="11.45">housing</tspan></text></g>
<g id="note-wooden-public" class="nt"><path d="M370 627h92.5v76l-15 15H370z"/><path class="fd" d="M462.5 703l-15 15 3-12z"/><text y="639.5"><tspan x="376.7">Publishing</tspan><tspan x="376.7" dy="11.45">guidance of</tspan><tspan x="376.7" dy="11.45">wooden house</tspan><tspan x="376.7" dy="11.45">specification</tspan><tspan x="376.7" dy="11.45">Converting</tspan><tspan x="376.7" dy="11.45">public buildings</tspan><tspan x="376.7" dy="11.45">to wooden ones</tspan></text></g>
<g id="note-forest-mgmt" class="nt"><path d="M490 627h92.5v82l-15 15H490z"/><path class="fd" d="M582.5 709l-15 15 3-12z"/><text y="639.5"><tspan x="496.7">Implementation</tspan><tspan x="496.7" dy="11.45">of Integrated</tspan><tspan x="496.7" dy="11.45">forestry plan</tspan><tspan x="496.7" dy="11.45">Implementation</tspan><tspan x="496.7" dy="11.45">of forestry</tspan><tspan x="496.7" dy="11.45">management</tspan><tspan x="496.7" dy="11.45">activation</tspan><tspan x="496.7" dy="11.45">project</tspan></text></g>
<g id="note-planting-private" class="nt"><path d="M610 627h92.5v76l-15 15H610z"/><path class="fd" d="M702.5 703l-15 15 3-12z"/><text y="639.5"><tspan x="616.7">Operating</tspan><tspan x="616.7" dy="11.45">subsidize</tspan><tspan x="616.7" dy="11.45">system of tree</tspan><tspan x="616.7" dy="11.45">planting</tspan><tspan x="616.7" dy="11.45">Planting tree on</tspan><tspan x="616.7" dy="11.45">private space</tspan></text></g>
<g id="note-planting-public" class="nt"><path d="M730 627h92.5v76l-15 15H730z"/><path class="fd" d="M822.5 703l-15 15 3-12z"/><text y="639.5"><tspan x="736.7">Planting tree on</tspan><tspan x="736.7" dy="11.45">roadside</tspan></text></g>

<g id="note-large-emitter" class="nt"><path d="M4.7 1022h92.5v108l-15 15H4.7z"/><path class="fd" d="M97.2 1130l-15 15 3-12z"/><text y="1034.5"><tspan x="11.4">Implementation</tspan><tspan x="11.4" dy="11.45">of large</tspan><tspan x="11.4" dy="11.45">programs</tspan><tspan x="11.4" dy="11.45">Diffusion of</tspan><tspan x="11.4" dy="11.45">energy efficient</tspan><tspan x="11.4" dy="11.45">equipments</tspan><tspan x="11.4" dy="11.45">Diffusion of</tspan><tspan x="11.4" dy="11.45">energy saving</tspan><tspan x="11.4" dy="11.45">managing</tspan><tspan x="11.4" dy="11.45">system</tspan></text></g>
<g id="note-kes" class="nt"><path d="M125.3 1022h92.5v161l-15 15H125.3z"/><path class="fd" d="M217.8 1183l-15 15 3-12z"/><text y="1034.5"><tspan x="132">KES<tspan font-size="6.5" baseline-shift="4">*3</tspan></tspan><tspan x="132" dy="11.45">consultation and</tspan><tspan x="132" dy="11.45">lecture</tspan><tspan x="132" dy="11.45">Bidding that</tspan><tspan x="132" dy="11.45">gives</tspan><tspan x="132" dy="11.45">preferential</tspan><tspan x="132" dy="11.45">treatment to</tspan><tspan x="132" dy="11.45">KES- certified</tspan><tspan x="132" dy="11.45">companies</tspan><tspan x="132" dy="11.45">Diffusion of</tspan><tspan x="132" dy="11.45">energy efficient</tspan><tspan x="132" dy="11.45">business</tspan><tspan x="132" dy="11.45">equipments</tspan><tspan x="132" dy="11.45">Diffusion of</tspan><tspan x="132" dy="11.45">energy saving</tspan></text></g>
<g id="note-sme" class="nt"><path d="M245.9 1022h92.5v81l-15 15H245.9z"/><path class="fd" d="M338.4 1103l-15 15 3-12z"/><text y="1034.5"><tspan x="252.6">Subsidy to small</tspan><tspan x="252.6" dy="11.45">businesses</tspan><tspan x="252.6" dy="11.45">Funding to small</tspan><tspan x="252.6" dy="11.45">buisinesses</tspan><tspan x="252.6" dy="11.45">Diffusion of</tspan><tspan x="252.6" dy="11.45">energy efficient</tspan><tspan x="252.6" dy="11.45">business</tspan><tspan x="252.6" dy="11.45">equipments</tspan></text></g>
<g id="note-rd" class="nt"><path d="M366.5 1022h92.5v177l-15 15H366.5z"/><path class="fd" d="M459 1199l-15 15 3-12z"/><text y="1034.5"><tspan x="373.2">R&amp;D in</tspan><tspan x="373.2" dy="11.45">environment+ na</tspan><tspan x="373.2" dy="11.45">no cluster</tspan><tspan x="373.2" dy="11.45">research</tspan><tspan x="373.2" dy="11.45">organization</tspan><tspan x="373.2" dy="11.45">Diffusion of</tspan><tspan x="373.2" dy="11.45">energy efficient</tspan><tspan x="373.2" dy="11.45">home appliance</tspan><tspan x="373.2" dy="11.45">developed in the</tspan><tspan x="373.2" dy="11.45">nanocluster</tspan><tspan x="373.2" dy="11.45">Diffusion of</tspan><tspan x="373.2" dy="11.45">energy efficient</tspan><tspan x="373.2" dy="11.45">business</tspan><tspan x="373.2" dy="11.45">equipments</tspan><tspan x="373.2" dy="11.45">developed in the</tspan><tspan x="373.2" dy="11.45">nanocluster</tspan></text></g>
<g id="note-promo-corporate" class="nt"><path d="M487.1 1022h92.5v75l-15 15H487.1z"/><path class="fd" d="M579.6 1097l-15 15 3-12z"/><text y="1034.5"><tspan x="493.8">Implementation</tspan><tspan x="493.8" dy="11.45">of KESC<tspan font-size="6.5" baseline-shift="4">*4</tspan></tspan></text></g>
<g id="note-reform" class="nt"><path d="M607.7 1022h92.5v81l-15 15H607.7z"/><path class="fd" d="M700.2 1103l-15 15 3-12z"/><text y="1034.5"><tspan x="614.4">Planning of</tspan><tspan x="614.4" dy="11.45">public building</tspan><tspan x="614.4" dy="11.45">reformation of</tspan><tspan x="614.4" dy="11.45">energy saving</tspan><tspan x="614.4" dy="11.45">systems</tspan><tspan x="614.4" dy="11.45">Energy saving</tspan><tspan x="614.4" dy="11.45">reformation of</tspan><tspan x="614.4" dy="11.45">public buildings</tspan></text></g>
<g id="note-seasonal" class="nt"><path d="M728.3 1022h92.5v129l-15 15H728.3z"/><path class="fd" d="M820.8 1151l-15 15 3-12z"/><text y="1034.5"><tspan x="735">Promotion of</tspan><tspan x="735" dy="11.45">seasonal</tspan><tspan x="735" dy="11.45">vegetable</tspan><tspan x="735" dy="11.45">distribution</tspan><tspan x="735" dy="11.45">Improvement of</tspan><tspan x="735" dy="11.45">industrial</tspan><tspan x="735" dy="11.45">production</tspan><tspan x="735" dy="11.45">technique</tspan><tspan x="735" dy="11.45">Increase the</tspan><tspan x="735" dy="11.45">ratio of seasonal</tspan><tspan x="735" dy="11.45">Kyoto vegetable</tspan><tspan x="735" dy="11.45">consumption</tspan></text></g>
<g id="note-recycling-ind" class="nt"><path d="M848.9 1022h92.5v75l-15 15H848.9z"/><path class="fd" d="M941.4 1097l-15 15 3-12z"/><text y="1034.5"><tspan x="855.6">Implementation</tspan><tspan x="855.6" dy="11.45">of new national</tspan><tspan x="855.6" dy="11.45">recycling society</tspan><tspan x="855.6" dy="11.45">plan</tspan><tspan x="855.6" dy="11.45">Reducing</tspan><tspan x="855.6" dy="11.45">industrial solid</tspan><tspan x="855.6" dy="11.45">waste emission</tspan></text></g>

<g id="note-lifestyle" class="nt"><path d="M976.5 705h92.5v206l-15 15H976.5z"/><path class="fd" d="M1069 911l-15 15 3-12z"/><text y="717.5"><tspan x="983.2">Encouragement</tspan><tspan x="983.2" dy="11.45">of eco-</tspan><tspan x="983.2" dy="11.45">household</tspan><tspan x="983.2" dy="11.45">accounting</tspan><tspan x="983.2" dy="11.45">Energy saving</tspan><tspan x="983.2" dy="11.45">consulting</tspan><tspan x="983.2" dy="11.45">service</tspan><tspan x="983.2" dy="11.45">Promotion of</tspan><tspan x="983.2" dy="11.45">eco- community</tspan><tspan x="983.2" dy="11.45">association</tspan><tspan x="983.2" dy="11.45">Diffusion of</tspan><tspan x="983.2" dy="11.45">energy saving</tspan><tspan x="983.2" dy="11.45">labeling</tspan><tspan x="983.2" dy="11.45">Diffusion of</tspan><tspan x="983.2" dy="11.45">energy efficient</tspan><tspan x="983.2" dy="11.45">home appliance</tspan><tspan x="983.2" dy="11.45">Diffusion of</tspan><tspan x="983.2" dy="11.45">energy saving</tspan><tspan x="983.2" dy="11.45">behavior</tspan></text></g>
<g id="note-env-edu" class="nt"><path d="M1097.1 705h92.5v195l-15 15H1097.1z"/><path class="fd" d="M1189.6 900l-15 15 3-12z"/><text y="717.5"><tspan x="1103.8">Training of eco-</tspan><tspan x="1103.8" dy="11.45">supporters at</tspan><tspan x="1103.8" dy="11.45">Miyako Ecology</tspan><tspan x="1103.8" dy="11.45">Center</tspan><tspan x="1103.8" dy="11.45">Environmental</tspan><tspan x="1103.8" dy="11.45">education in</tspan><tspan x="1103.8" dy="11.45">school</tspan><tspan x="1103.8" dy="11.45">Implementation</tspan><tspan x="1103.8" dy="11.45">of Children's</tspan><tspan x="1103.8" dy="11.45">Eco- life</tspan><tspan x="1103.8" dy="11.45">Challenge</tspan><tspan x="1103.8" dy="11.45">Project</tspan><tspan x="1103.8" dy="11.45">Diffusion of</tspan><tspan x="1103.8" dy="11.45">energy efficient</tspan><tspan x="1103.8" dy="11.45">home appliance</tspan><tspan x="1103.8" dy="11.45">Diffusion of</tspan><tspan x="1103.8" dy="11.45">energy saving</tspan><tspan x="1103.8" dy="11.45">behavior</tspan></text></g>
<g id="note-ecopoint" class="nt"><path d="M1217.7 705h92.5v75l-15 15H1217.7z"/><path class="fd" d="M1310.2 780l-15 15 3-12z"/><text y="717.5"><tspan x="1224.4">Operating eco-</tspan><tspan x="1224.4" dy="11.45">point system</tspan><tspan x="1224.4" dy="11.45">Diffusion of</tspan><tspan x="1224.4" dy="11.45">energy efficient</tspan><tspan x="1224.4" dy="11.45">home appliance</tspan></text></g>
<g id="note-recycling-mun" class="nt"><path d="M1338.3 705h92.5v75l-15 15H1338.3z"/><path class="fd" d="M1430.8 780l-15 15 3-12z"/><text y="717.5"><tspan x="1345">Implementation</tspan><tspan x="1345" dy="11.45">of new national</tspan><tspan x="1345" dy="11.45">recycling society</tspan><tspan x="1345" dy="11.45">plan</tspan><tspan x="1345" dy="11.45">Reducing</tspan><tspan x="1345" dy="11.45">municipal waste</tspan></text></g>

<g id="note-citizen-fund" class="nt"><path d="M1574.7 652.7h92.5v75.3l-15 15H1574.7z"/><path class="fd" d="M1667.2 728l-15 15 3-12z"/><text y="665.2"><tspan x="1581.4">Operation of</tspan><tspan x="1581.4" dy="11.45">Kyoto citizen</tspan><tspan x="1581.4" dy="11.45">environmental</tspan><tspan x="1581.4" dy="11.45">fund</tspan></text></g>
<g id="note-forest-tax" class="nt"><path d="M1695.3 652.7h92.5v75.3l-15 15H1695.3z"/><path class="fd" d="M1787.8 728l-15 15 3-12z"/><text y="665.2"><tspan x="1702">Design of forest</tspan><tspan x="1702" dy="11.45">environment tax</tspan><tspan x="1702" dy="11.45">system</tspan><tspan x="1702" dy="11.45">Implementation</tspan><tspan x="1702" dy="11.45">of forest</tspan><tspan x="1702" dy="11.45">environment tax</tspan><tspan x="1702" dy="11.45">system</tspan></text></g>
<g id="note-carbon-offset" class="nt"><path d="M1815.9 652.7h92.5v81.3l-15 15H1815.9z"/><path class="fd" d="M1908.4 734l-15 15 3-12z"/><text y="665.2"><tspan x="1822.6">Development of</tspan><tspan x="1822.6" dy="11.45">Kyoto carbon</tspan><tspan x="1822.6" dy="11.45">offset model</tspan><tspan x="1822.6" dy="11.45">project</tspan><tspan x="1822.6" dy="11.45">Full- scale</tspan><tspan x="1822.6" dy="11.45">operation of</tspan><tspan x="1822.6" dy="11.45">Kyoto carbon</tspan><tspan x="1822.6" dy="11.45">offset system</tspan></text></g>

<g id="note-pv-public" class="nt"><path d="M1214.7 1022.3h92.5v80.7l-15 15H1214.7z"/><path class="fd" d="M1307.2 1103l-15 15 3-12z"/><text y="1034.8"><tspan x="1221.4">Creating a</tspan><tspan x="1221.4" dy="11.45">installation</tspan><tspan x="1221.4" dy="11.45">specification of</tspan><tspan x="1221.4" dy="11.45">PV/ SWH for</tspan><tspan x="1221.4" dy="11.45">public building</tspan><tspan x="1221.4" dy="11.45">Installation of</tspan><tspan x="1221.4" dy="11.45">PV/ SWH on</tspan><tspan x="1221.4" dy="11.45">public building</tspan></text></g>
<g id="note-pv-houses" class="nt"><path d="M1335 1022.3h92.5v75.7l-15 15H1335z"/><path class="fd" d="M1427.5 1098l-15 15 3-12z"/><text y="1034.8"><tspan x="1341.7">Subsidize</tspan><tspan x="1341.7" dy="11.45">system of PV</tspan><tspan x="1341.7" dy="11.45">Diffusion of PV</tspan><tspan x="1341.7" dy="11.45">devices</tspan></text></g>
<g id="note-bdf" class="nt"><path d="M1455.3 1022.3h92.5v75.7l-15 15H1455.3z"/><path class="fd" d="M1547.8 1098l-15 15 3-12z"/><text y="1034.8"><tspan x="1462">Collection of</tspan><tspan x="1462" dy="11.45">used cooking oil</tspan></text></g>
<g id="note-biofuel" class="nt"><path d="M1575.6 1022.3h92.5v149.7l-15 15H1575.6z"/><path class="fd" d="M1668.1 1172l-15 15 3-12z"/><text y="1034.8"><tspan x="1582.3">R&amp;D of Gasified</tspan><tspan x="1582.3" dy="11.45">methanol</tspan><tspan x="1582.3" dy="11.45">development</tspan><tspan x="1582.3" dy="11.45">Setting guideline</tspan><tspan x="1582.3" dy="11.45">of biofuel use</tspan><tspan x="1582.3" dy="11.45">Differentiate</tspan><tspan x="1582.3" dy="11.45">taxation of</tspan><tspan x="1582.3" dy="11.45">biofuel use</tspan><tspan x="1582.3" dy="11.45">Diffusion of</tspan><tspan x="1582.3" dy="11.45">biofuel use in</tspan><tspan x="1582.3" dy="11.45">national scale</tspan><tspan x="1582.3" dy="11.45">Fuel shift of</tspan><tspan x="1582.3" dy="11.45">vehicle from oil</tspan><tspan x="1582.3" dy="11.45">to biofuel</tspan></text></g>
<g id="note-biomethanol" class="nt"><path d="M1695.9 1022.3h92.5v96.7l-15 15H1695.9z"/><path class="fd" d="M1788.4 1119l-15 15 3-12z"/><text y="1034.8"><tspan x="1702.6">R&amp;D of Gasified</tspan><tspan x="1702.6" dy="11.45">methanol</tspan><tspan x="1702.6" dy="11.45">Construction of</tspan><tspan x="1702.6" dy="11.45">bio methanol</tspan><tspan x="1702.6" dy="11.45">plant</tspan><tspan x="1702.6" dy="11.45">Operation of</tspan><tspan x="1702.6" dy="11.45">bio- methanol</tspan><tspan x="1702.6" dy="11.45">power</tspan><tspan x="1702.6" dy="11.45">generation</tspan></text></g>
<g id="note-waste-power" class="nt"><path d="M1816.2 1022.3h92.5v75.7l-15 15H1816.2z"/><path class="fd" d="M1908.7 1098l-15 15 3-12z"/><text y="1034.8"><tspan x="1822.9">Power</tspan><tspan x="1822.9" dy="11.45">generation from</tspan><tspan x="1822.9" dy="11.45">solid waste</tspan><tspan x="1822.9" dy="11.45">incineration</tspan></text></g>
</svg>
